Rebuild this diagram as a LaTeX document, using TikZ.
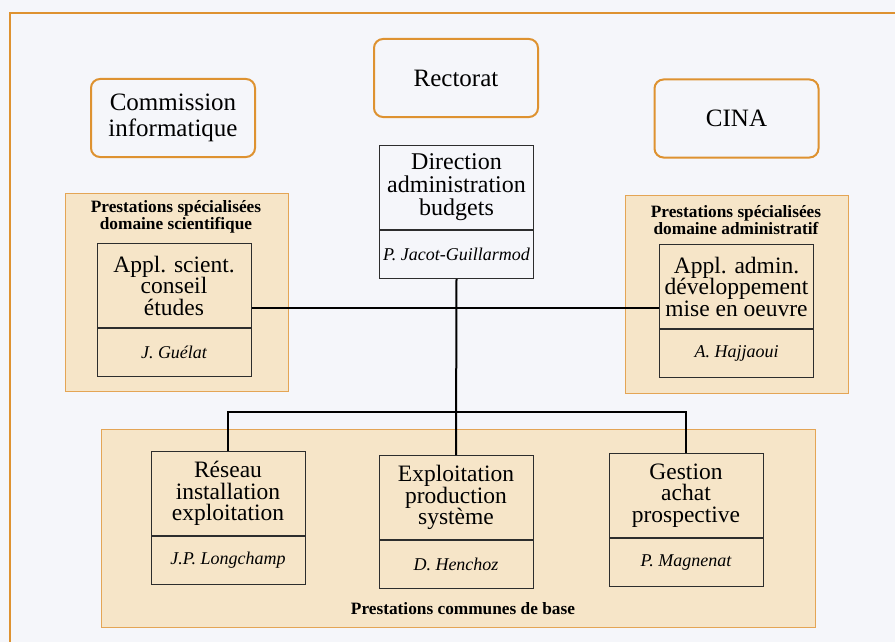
\documentclass[tikz,border=0pt]{standalone}
\usepackage{fontspec}
\setmainfont{Liberation Serif}
\usetikzlibrary{positioning}

\definecolor{paper}{RGB}{245,246,250}
\definecolor{frameorange}{RGB}{222,146,48}
\definecolor{panelfill}{RGB}{246,229,200}
\definecolor{paneledge}{RGB}{228,165,85}
\definecolor{inkgray}{RGB}{45,45,45}

\tikzset{
  orgbox/.style={draw=frameorange, line width=2pt, rounded corners=9pt, fill=paper,
    minimum width=164, minimum height=78, align=center,
    font=\fontsize{25}{26}\selectfont},
  panel/.style={draw=paneledge, line width=1pt, fill=panelfill, anchor=north west, inner sep=0pt},
  paneltitle/.style={align=center, inner sep=0pt, font=\fontsize{17.3}{17}\selectfont\bfseries},
  unit/.style={draw=inkgray, line width=1pt, fill=panelfill, minimum width=154,
    minimum height=84, anchor=north, align=center, inner sep=2pt,
    font=\fontsize{23.5}{21.5}\selectfont},
  who/.style={draw=inkgray, line width=1pt, fill=panelfill, minimum width=154,
    minimum height=48, inner sep=1pt, font=\fontsize{18}{19}\selectfont\itshape},
  link/.style={line width=2pt, black}
}

\begin{document}
\begin{tikzpicture}[x=1pt, y=-1pt]
  \useasboundingbox[fill=paper] (0,0) rectangle (895,642);
  \draw[frameorange, line width=2pt] (10,660) -- (10,13) -- (910,13);

  % top level
  \node[orgbox] (commission) at (173,118) {Commission\\informatique};
  \node[orgbox] (rectorat) at (456,78) {Rectorat};
  \node[orgbox] (cina) at (736.5,118.5) {CINA};

  % panels
  \node[panel, minimum width=223, minimum height=198] (scipanel) at (65,193) {};
  \node[panel, minimum width=223, minimum height=198] (admpanel) at (625,195) {};
  \node[panel, minimum width=714, minimum height=198] (basepanel) at (101,429) {};
  \node[paneltitle] (scititle) at (176,217) {Prestations spécialisées\\domaine scientifique};
  \node[paneltitle] (admtitle) at (736,220) {Prestations spécialisées\\domaine administratif};
  \node[paneltitle] (basetitle) at (463,609) {Prestations communes de base};

  % units
  \node[unit, fill=paper, font=\fontsize{24}{23}\selectfont] (dir) at (456.5,145)
    {Direction\\administration\\budgets};
  \node[who, fill=paper, below=0pt of dir] (dirwho) {P. Jacot-Guillarmod};

  \node[unit] (sci) at (174,243) {Appl. scient.\\conseil\\études};
  \node[who, below=0pt of sci] (sciwho) {J. Guélat};

  \node[unit] (adm) at (736.5,244) {Appl. admin.\\développement\\mise en oeuvre};
  \node[who, below=0pt of adm] (admwho) {A. Hajjaoui};

  \node[unit] (res) at (228,451) {Réseau\\installation\\exploitation};
  \node[who, below=0pt of res] (reswho) {J.P. Longchamp};

  \node[unit] (expl) at (456,455) {Exploitation\\production\\système};
  \node[who, below=0pt of expl] (explwho) {D. Henchoz};

  \node[unit] (ges) at (686,453) {Gestion\\achat\\prospective};
  \node[who, below=0pt of ges] (geswho) {P. Magnenat};

  % connectors
  \coordinate (hub) at (456,308);
  \coordinate (bar) at (456,412);
  \draw[link] (dirwho.south) -- (expl.north);
  \draw[link] (sci.east |- hub) -- (adm.west |- hub);
  \draw[link] (res.north) |- (bar) -| (ges.north);
\end{tikzpicture}
\end{document}
